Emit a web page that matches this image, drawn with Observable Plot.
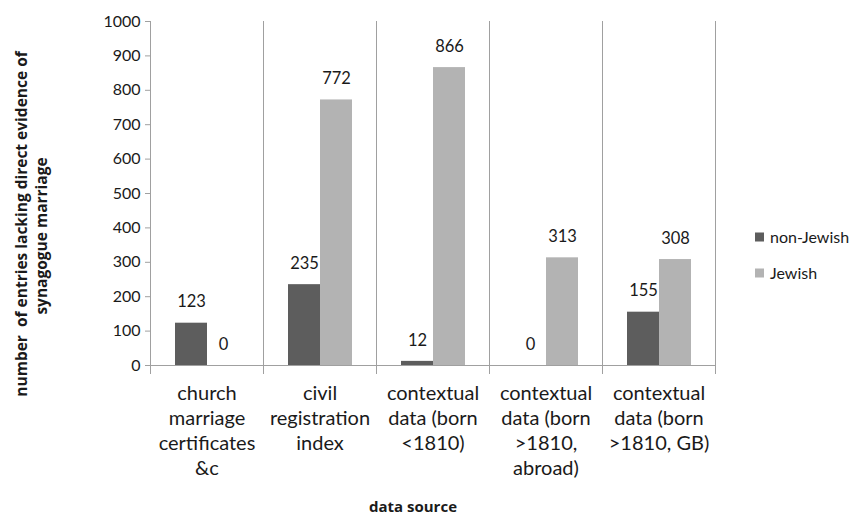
<!DOCTYPE html>
<html>
<head>
<meta charset="utf-8">
<script src="https://cdn.jsdelivr.net/npm/d3@7"></script>
<script src="https://cdn.jsdelivr.net/npm/@observablehq/plot@0.6"></script>
<style>
  html, body { margin: 0; padding: 0; background: #fff; }
  #wrap { position: relative; width: 855px; height: 518px; }
  #wrap svg.overlay { position: absolute; left: 0; top: 0; pointer-events: none; }
</style>
</head>
<body>
<div id="wrap"></div>
<script>
// Entries lacking direct evidence of synagogue marriage, by data source
const categories = [
  "church marriage certificates &c",
  "civil registration index",
  "contextual data (born <1810)",
  "contextual data (born >1810, abroad)",
  "contextual data (born >1810, GB)"
];
const tickLabels = [
  "church\nmarriage\ncertificates\n&c",
  "civil\nregistration\nindex",
  "contextual\ndata (born\n<1810)",
  "contextual\ndata (born\n>1810,\nabroad)",
  "contextual\ndata (born\n>1810, GB)"
];
const seriesNames = ["non-Jewish", "Jewish"];
const nonJewish = [123, 235, 12, 0, 155];
const jewish = [0, 772, 866, 313, 308];
const seriesColors = ["#5d5d5d", "#b3b3b3"];
const yTicks = [0, 100, 200, 300, 400, 500, 600, 700, 800, 900, 1000];
const yTitleLines = ["number  of entries lacking direct evidence of", "synagogue marriage"];
const xTitle = "data source";

const rows = categories.flatMap((c, i) => [
  {category: c, series: seriesNames[0], value: nonJewish[i]},
  {category: c, series: seriesNames[1], value: jewish[i]}
]);

const axisColor = "#a0a0a0";
const textColor = "#1a1a1a";
const labelOf = new Map(categories.map((c, i) => [c, tickLabels[i]]));

const chart = Plot.plot({
  width: 855,
  height: 518,
  marginLeft: 148,
  marginRight: 139,
  marginTop: 21,
  marginBottom: 153,
  style: {fontFamily: "Lato, 'Open Sans', sans-serif", color: textColor, background: "transparent"},
  fx: {domain: categories, padding: 0, label: null, axis: null},
  x: {domain: seriesNames, paddingInner: 0, paddingOuter: 0.725, axis: null},
  y: {domain: [0, 1000], label: null, axis: null},
  color: {domain: seriesNames, range: seriesColors},
  marks: [
    // group separators at the edges of each category
    Plot.frame({anchor: "left", stroke: axisColor, insetBottom: -8}),
    Plot.frame({anchor: "right", stroke: axisColor, insetBottom: -8}),
    Plot.barY(rows, {fx: "category", x: "series", y: "value", fill: "series"}),
    Plot.ruleY([0], {stroke: axisColor}),
    Plot.text(rows, {
      fx: "category", x: "series", y: "value", text: d => String(d.value),
      dy: -21, fontSize: 16.5, fill: textColor
    }),
    Plot.axisY({
      ticks: yTicks, tickSize: 5, tickPadding: 5, stroke: axisColor,
      fontSize: 16, fill: textColor, tickFormat: d => String(d)
    }),
    Plot.axisFx({
      anchor: "bottom", tickSize: 0, tickPadding: 17, fontSize: 20,
      lineHeight: 1.25, fill: textColor, label: null,
      tickFormat: d => labelOf.get(d)
    })
  ]
});

const wrap = document.getElementById("wrap");
wrap.appendChild(chart);

// titles and legend drawn on a transparent layer above the chart
const svg = d3.select(wrap).append("svg")
  .attr("class", "overlay")
  .attr("width", 855)
  .attr("height", 518);

const yTitlePos = [{x: 27, y: 224}, {x: 47, y: 236}];
yTitleLines.forEach((t, i) => {
  svg.append("text")
    .attr("transform", `translate(${yTitlePos[i].x},${yTitlePos[i].y}) rotate(-90)`)
    .attr("text-anchor", "middle")
    .attr("font-family", "'Open Sans', sans-serif")
    .attr("font-weight", "bold")
    .attr("font-size", 15.5)
    .attr("fill", textColor)
    .style("white-space", "pre")
    .text(t);
});

svg.append("text")
  .attr("x", 413)
  .attr("y", 512)
  .attr("text-anchor", "middle")
  .attr("font-family", "'Open Sans', sans-serif")
  .attr("font-weight", "bold")
  .attr("font-size", 15)
  .attr("fill", textColor)
  .text(xTitle);

const legend = svg.append("g").attr("transform", "translate(755,237)");
seriesNames.forEach((s, i) => {
  const g = legend.append("g").attr("transform", `translate(0,${i * 36})`);
  g.append("rect").attr("x", 0).attr("y", -4.5).attr("width", 9).attr("height", 9).attr("fill", seriesColors[i]);
  g.append("text")
    .attr("x", 15)
    .attr("y", 0)
    .attr("dy", "0.35em")
    .attr("font-family", "Lato, 'Open Sans', sans-serif")
    .attr("font-size", 16)
    .attr("fill", textColor)
    .text(s);
});
</script>
</body>
</html>
